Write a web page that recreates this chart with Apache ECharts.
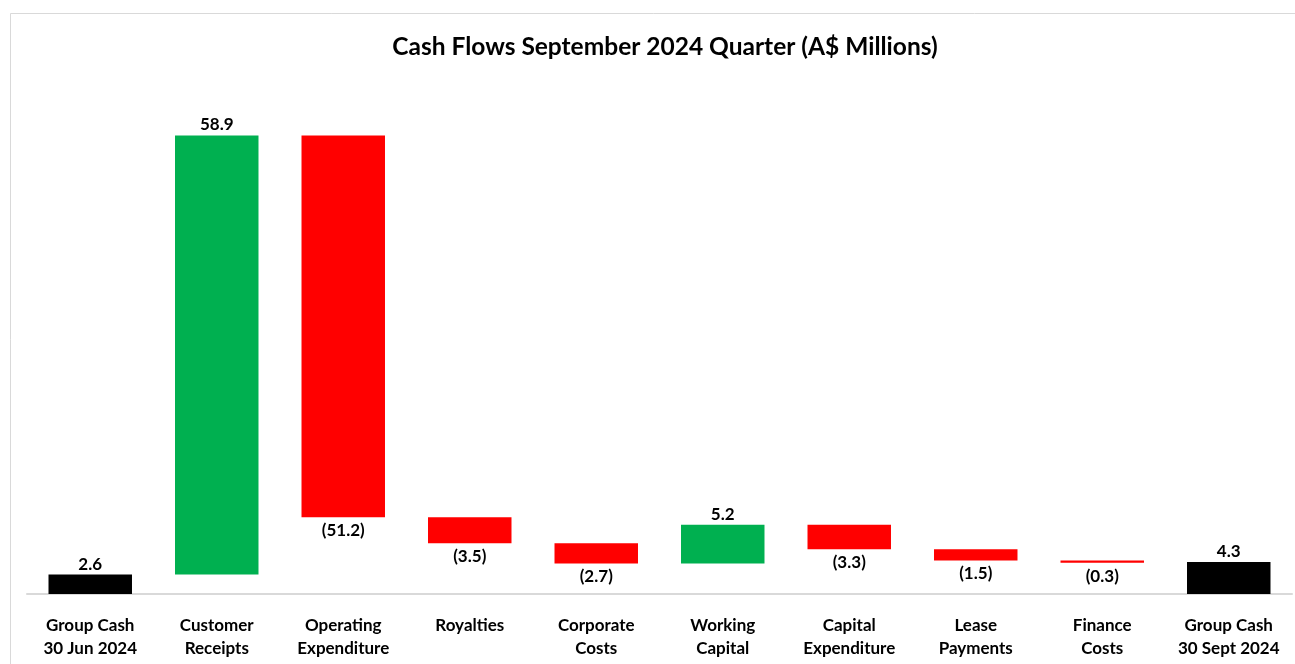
<!DOCTYPE html>
<html>
<head>
<meta charset="utf-8">
<script src="https://cdn.jsdelivr.net/npm/echarts@6/dist/echarts.min.js"></script>
<style>html,body{margin:0;padding:0;background:#fff;}#c{width:1295px;height:664px;}</style>
</head>
<body>
<div id="c"></div>
<script>
var categories = ['Group Cash\n30 Jun 2024','Customer\nReceipts','Operating\nExpenditure','Royalties','Corporate\nCosts','Working\nCapital','Capital\nExpenditure','Lease\nPayments','Finance\nCosts','Group Cash\n30 Sept 2024'];
var values = [2.6, 58.9, -51.2, -3.5, -2.7, 5.2, -3.3, -1.5, -0.3, 4.3];
var kinds = ['total','delta','delta','delta','delta','delta','delta','delta','delta','total'];

var base = [], height = [], colors = [];
var running = 0;
for (var i = 0; i < values.length; i++) {
  var v = values[i];
  if (kinds[i] === 'total') {
    base.push(0); height.push(v); running = v; colors.push('#000000');
  } else {
    var end = running + v;
    base.push(Math.min(running, end));
    height.push(Math.abs(v));
    running = end;
    colors.push(v >= 0 ? '#00B050' : '#FF0000');
  }
}

var font = 'Lato';
var chart = echarts.init(document.getElementById('c'));
chart.setOption({
  animation: false,
  backgroundColor: '#fff',
  title: {
    text: 'Cash Flows September 2024 Quarter (A$ Millions)',
    left: 660, top: 30, textAlign: 'center',
    textStyle: {fontFamily: font, fontWeight: 'bold', fontSize: 24.5, color: '#000'}
  },
  graphic: [{type: 'rect', shape: {x: 10.5, y: 13.5, width: 1300, height: 700}, style: {fill: 'none', stroke: '#d9d9d9', lineWidth: 1}, silent: true, z: -1}],
  grid: {left: 27, right: 3, top: 72, bottom: 70},
  xAxis: {
    type: 'category', data: categories,
    axisLine: {lineStyle: {color: '#d9d9d9', width: 2}},
    axisTick: {show: false},
    axisLabel: {interval: 0, margin: 20, lineHeight: 23, fontFamily: font, fontWeight: 'bold', fontSize: 17, color: '#000'}
  },
  yAxis: {type: 'value', min: 0, max: 70, show: false, splitLine: {show: false}},
  series: [
    {type: 'bar', stack: 'w', data: base, itemStyle: {color: 'transparent'}, barWidth: '66%', silent: true},
    {type: 'bar', stack: 'w', barWidth: '66%',
      data: height.map(function (h, i) {
        var v = values[i];
        return {
          value: h,
          itemStyle: {color: colors[i]},
          label: {
            show: true,
            position: v >= 0 ? 'top' : 'bottom',
            distance: v >= 0 ? 2 : 5,
            formatter: v >= 0 ? v.toFixed(1) : '(' + Math.abs(v).toFixed(1) + ')',
            fontFamily: font, fontWeight: 'bold', fontSize: 17, color: '#000'
          }
        };
      })
    }
  ]
});
</script>
</body>
</html>
